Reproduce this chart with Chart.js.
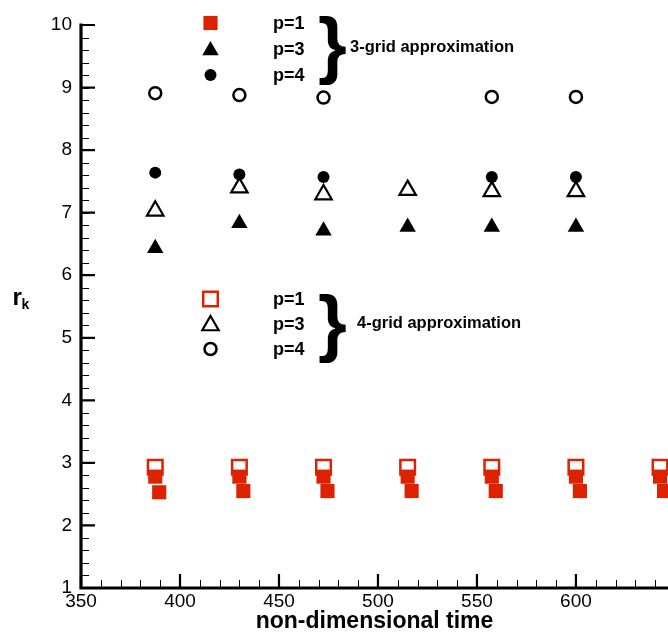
<!DOCTYPE html>
<html><head><meta charset="utf-8">
<script src="https://cdn.jsdelivr.net/npm/chart.js@4/dist/chart.umd.min.js"></script>
<style>html,body{margin:0;padding:0;background:#fff;overflow:hidden}#wrap{width:668px;height:635px;position:relative}</style>
</head><body><div id="wrap"><canvas id="c" width="668" height="635"></canvas></div>
<script>
// ---- data ----
const times        = [387.5, 430, 472.5, 515, 557.5, 600, 642.5];
const timesShifted = [389.5, 432, 474.5, 517, 559.5, 602, 644.5];
const grid3_p1  = [2.78, 2.78, 2.78, 2.78, 2.78, 2.78, 2.78];
const grid3_p1b = [2.53, 2.55, 2.55, 2.55, 2.55, 2.55, 2.55];
const grid3_p3  = [6.43, 6.83, 6.71, 6.77, 6.77, 6.77, null];
const grid3_p4  = [7.64, 7.61, 7.57, null, 7.57, 7.57, null];
const grid4_p1  = [2.93, 2.93, 2.93, 2.93, 2.93, 2.93, 2.93];
const grid4_p3  = [7.03, 7.40, 7.29, 7.36, 7.34, 7.34, null];
const grid4_p4  = [8.91, 8.88, 8.84, null, 8.85, 8.85, null];
const xTicks = [350, 400, 450, 500, 550, 600];
const yTicks = [1, 2, 3, 4, 5, 6, 7, 8, 9, 10];
const legendLabels = ['p=1', 'p=3', 'p=4'];
const groupLabels = ['3-grid approximation', '4-grid approximation'];

const RED = 'rgb(221,34,0)';
const FONT = "'Liberation Sans', Arial, Helvetica, sans-serif";

function pts(xs, ys) {
  return xs.map((x, i) => ({x: x, y: ys[i]})).filter(p => p.y !== null);
}

const styles = {
  sqFill:  {pointStyle: 'rect', radius: 10, borderWidth: 0, bg: RED, fg: RED},
  sqOpen:  {pointStyle: 'rect', radius: 10.3, borderWidth: 2.5, bg: 'rgba(0,0,0,0)', fg: RED},
  triFill: {pointStyle: 'triangle', radius: 9.5, borderWidth: 0, bg: '#000', fg: '#000'},
  triOpen: {pointStyle: 'triangle', radius: 9.5, borderWidth: 2.2, bg: 'rgba(0,0,0,0)', fg: '#000'},
  cirFill: {pointStyle: 'circle', radius: 6, borderWidth: 0, bg: '#000', fg: '#000'},
  cirOpen: {pointStyle: 'circle', radius: 6, borderWidth: 2.5, bg: 'rgba(0,0,0,0)', fg: '#000'}
};

function ds(label, data, st) {
  return {
    label: label, data: data, showLine: false,
    pointStyle: st.pointStyle, pointRadius: st.radius, pointHoverRadius: st.radius,
    pointBorderWidth: st.borderWidth, pointBackgroundColor: st.bg, pointBorderColor: st.fg,
    backgroundColor: st.bg, borderColor: st.fg
  };
}

const datasets = [
  ds('3-grid p=1', pts(times, grid3_p1), styles.sqFill),
  ds('3-grid p=1 (b)', pts(timesShifted, grid3_p1b), styles.sqFill),
  ds('4-grid p=1', pts(times, grid4_p1), styles.sqOpen),
  ds('3-grid p=4', pts(times, grid3_p4), styles.cirFill),
  ds('3-grid p=3', pts(times, grid3_p3), styles.triFill),
  ds('4-grid p=3', pts(times, grid4_p3), styles.triOpen),
  ds('4-grid p=4', pts(times, grid4_p4), styles.cirOpen)
];

function drawMarker(ctx, st, x, y) {
  ctx.save();
  ctx.fillStyle = st.bg; ctx.strokeStyle = st.fg; ctx.lineWidth = st.borderWidth;
  if (Chart.helpers && Chart.helpers.drawPoint) {
    Chart.helpers.drawPoint(ctx, {pointStyle: st.pointStyle, radius: st.radius, rotation: 0, borderWidth: st.borderWidth}, x, y);
  }
  ctx.restore();
}

const axesPlugin = {
  id: 'axesPlugin',
  afterDraw(chart) {
    const ctx = chart.ctx, ca = chart.chartArea, sx = chart.scales.x, sy = chart.scales.y;
    ctx.save();
    ctx.strokeStyle = '#000';
    // minor ticks
    ctx.lineWidth = 1;
    ctx.beginPath();
    for (let v = sx.min; v <= sx.max + 1e-6; v += 10) {
      const p = Math.round(sx.getPixelForValue(v)) + 0.5;
      ctx.moveTo(p, ca.bottom); ctx.lineTo(p, ca.bottom - 8);
    }
    for (let k = 0; k <= 45; k++) {
      const v = 1 + k * 0.2;
      const p = Math.round(sy.getPixelForValue(v)) + 0.5;
      ctx.moveTo(ca.left, p); ctx.lineTo(ca.left + 8, p);
    }
    ctx.stroke();
    // major ticks
    ctx.lineWidth = 2.2;
    ctx.beginPath();
    xTicks.forEach(v => { const p = sx.getPixelForValue(v); ctx.moveTo(p, ca.bottom); ctx.lineTo(p, ca.bottom - 14); });
    yTicks.forEach(v => { const p = sy.getPixelForValue(v); ctx.moveTo(ca.left, p); ctx.lineTo(ca.left + 14, p); });
    ctx.stroke();
    // axis lines
    ctx.lineWidth = 3.2;
    ctx.lineCap = 'square';
    ctx.beginPath();
    ctx.moveTo(ca.left, ca.top);
    ctx.lineTo(ca.left, ca.bottom);
    ctx.lineTo(chart.width + 5, ca.bottom);
    ctx.stroke();
    // y-axis title r_k
    ctx.fillStyle = '#000';
    ctx.textBaseline = 'alphabetic';
    ctx.textAlign = 'left';
    ctx.font = 'bold 24px ' + FONT;
    ctx.fillText('r', 12.5, 305);
    ctx.font = 'bold 14px ' + FONT;
    ctx.fillText('k', 21.5, 308.5);

    // in-plot legends
    const groups = [
      {rows: [23, 49, 75], marks: [styles.sqFill, styles.triFill, styles.cirFill], braceBase: 69.5, textY: 47.5, textX: 350},
      {rows: [299, 324, 349], marks: [styles.sqOpen, styles.triOpen, styles.cirOpen], braceBase: 347.5, textY: 323.5, textX: 357}
    ];
    groups.forEach((g, gi) => {
      g.rows.forEach((ry, i) => {
        const st = g.marks[i];
        const off = st.pointStyle === 'triangle' ? 1.5 : 0;
        drawMarker(ctx, st, 210.5, ry + off);
        ctx.fillStyle = '#000';
        ctx.font = 'bold 18px ' + FONT;
        ctx.textBaseline = 'middle';
        ctx.textAlign = 'left';
        ctx.fillText(legendLabels[i], 273, ry + 1);
      });
      ctx.font = 'bold 74px ' + FONT;
      ctx.textBaseline = 'alphabetic';
      ctx.fillText('}', 318, g.braceBase);
      ctx.font = 'bold 16.5px ' + FONT;
      ctx.textBaseline = 'middle';
      ctx.fillText(groupLabels[gi], g.textX, g.textY);
    });
    ctx.restore();
  }
};

new Chart(document.getElementById('c'), {
  type: 'scatter',
  data: {datasets: datasets},
  options: {
    responsive: false, animation: false,
    layout: {autoPadding: false, padding: {top: 25, right: 0, left: 0, bottom: 0}},
    plugins: {legend: {display: false}, tooltip: {enabled: false}},
    scales: {
      x: {
        type: 'linear', min: 350, max: 646.5,
        afterFit(s) { s.height = 47; s.paddingRight = 0; s.paddingLeft = 0; },
        grid: {display: false, drawTicks: false}, border: {display: false},
        ticks: {stepSize: 50, includeBounds: false, color: '#000', font: {family: FONT, size: 19}, padding: 2, maxRotation: 0, autoSkip: false},
        title: {display: true, text: 'non-dimensional time', color: '#000', font: {family: FONT, size: 23, weight: 'bold'}, padding: 0}
      },
      y: {
        type: 'linear', min: 1, max: 10,
        afterFit(s) { s.width = 81; },
        grid: {display: false, drawTicks: false}, border: {display: false},
        ticks: {stepSize: 1, color: '#000', font: {family: FONT, size: 19}, padding: 9}
      }
    }
  },
  plugins: [axesPlugin]
});
</script></body></html>
